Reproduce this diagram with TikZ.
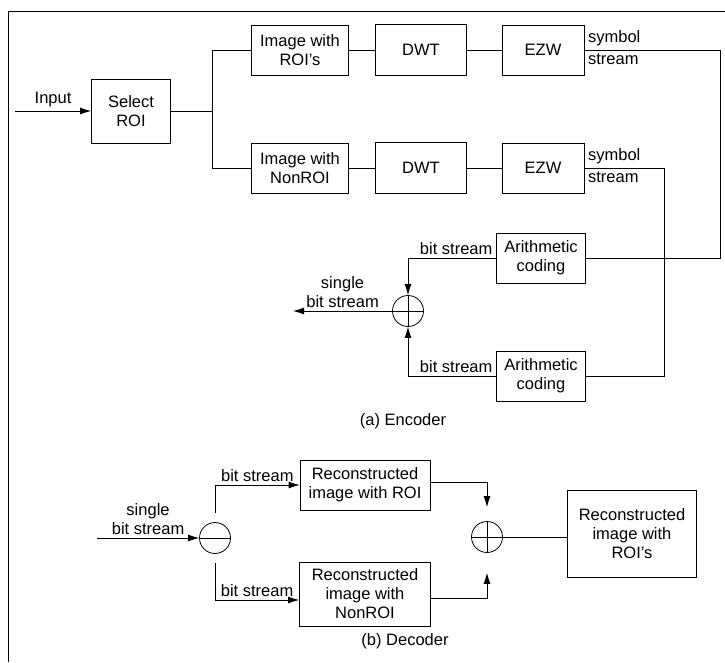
\documentclass[tikz,border=0pt]{standalone}
\usepackage{fontspec}
\setmainfont{Liberation Sans}
\usetikzlibrary{arrows.meta}

\begin{document}
\begin{tikzpicture}[x=1pt,y=-1pt,line width=0.8pt,
		font=\fontsize{16.5}{19}\selectfont,
		>={Latex[length=11pt,width=7pt]},
		blk/.style={draw,align=center,inner sep=2pt},
		ring/.style={draw,circle,minimum size=31pt,inner sep=0pt},
		plusring/.style={ring,path picture={
				\draw (path picture bounding box.west) -- (path picture bounding box.east)
				(path picture bounding box.north) -- (path picture bounding box.south);}},
		minusring/.style={ring,path picture={
				\draw (path picture bounding box.west) -- (path picture bounding box.east);}}]
	\useasboundingbox (0,0) rectangle (725,662);
	\draw (8,662) -- (8,11) -- (725,11);
	
	% encoder
	\node[blk,minimum width=79pt,minimum height=64pt] (sel) at (131,111) {Select\\ROI};
	\coordinate (in1) at (15,111);
	\draw[->] (in1) -- node[above]{Input} (sel.west);
	\coordinate (split) at (212,111);
	\draw (sel.east) -- (split);
	\foreach \row/\y/\what/\xr/\ya in {1/50/ROI's/720/258, 2/168/NonROI/664/376} {
		\node[blk,minimum width=97pt,minimum height=50pt] (img\row) at (300,\y) {Image with\\\what};
		\node[blk,minimum width=91pt,minimum height=51pt] (dwt\row) at (421,\y) {DWT};
		\node[blk,minimum width=82pt,minimum height=50pt] (ezw\row) at (543,\y) {EZW};
		\node[blk,minimum width=89pt,minimum height=50pt] (ac\row) at (541,\ya) {Arithmetic\\coding};
		\draw (split) |- (img\row.west);
		\draw (img\row.east) -- (dwt\row.west) (dwt\row.east) -- (ezw\row.west);
		\draw (ezw\row.east) node[above right]{symbol} node[below right]{stream}
			-- (\xr,\y) |- (ac\row.east);
	}
	\node[plusring] (sum1) at (408,311) {};
	\draw[->] (ac1.west) node[above left]{bit stream} -| (sum1.north);
	\draw[->] (ac2.west) node[above left]{bit stream} -| (sum1.south);
	\coordinate (out1) at (293,311);
	\draw[->] (sum1.west) -- node[above,align=center]{single\\bit stream} (out1);
	\node (capa) at (403,421) {(a) Encoder};
	
	% decoder
	\node[minusring] (sub) at (215,538) {};
	\coordinate (in2) at (97,538);
	\draw[->] (in2) -- node[above,align=center]{single\\bit stream} (sub.west);
	\node[blk,minimum width=130pt,minimum height=50pt] (rec1) at (365,485) {Reconstructed\\image with ROI};
	\node[blk,minimum width=131pt,minimum height=64pt] (rec2) at (365,594) {Reconstructed\\image with\\NonROI};
	\draw[->,shorten <=9pt] (sub.north) |- node[pos=0.75,above]{bit stream} (rec1.west);
	\draw[->,shorten <=9pt] (sub.south) |- node[pos=0.75,above]{bit stream} ([yshift=-6pt]rec2.west);
	\node[plusring] (sum2) at (487,537) {};
	\draw[->,shorten >=14pt] ([yshift=3pt]rec1.east) -| (sum2.north);
	\draw[->,shorten >=20pt] ([yshift=-4pt]rec2.east) -| (sum2.south);
	\node[blk,minimum width=129pt,minimum height=87pt] (rec3) at (632,534) {Reconstructed\\image with\\ROI's};
	\draw (sum2.east) -- (sum2.east -| rec3.west);
	\node (capb) at (405,641) {(b) Decoder};
\end{tikzpicture}
\end{document}
